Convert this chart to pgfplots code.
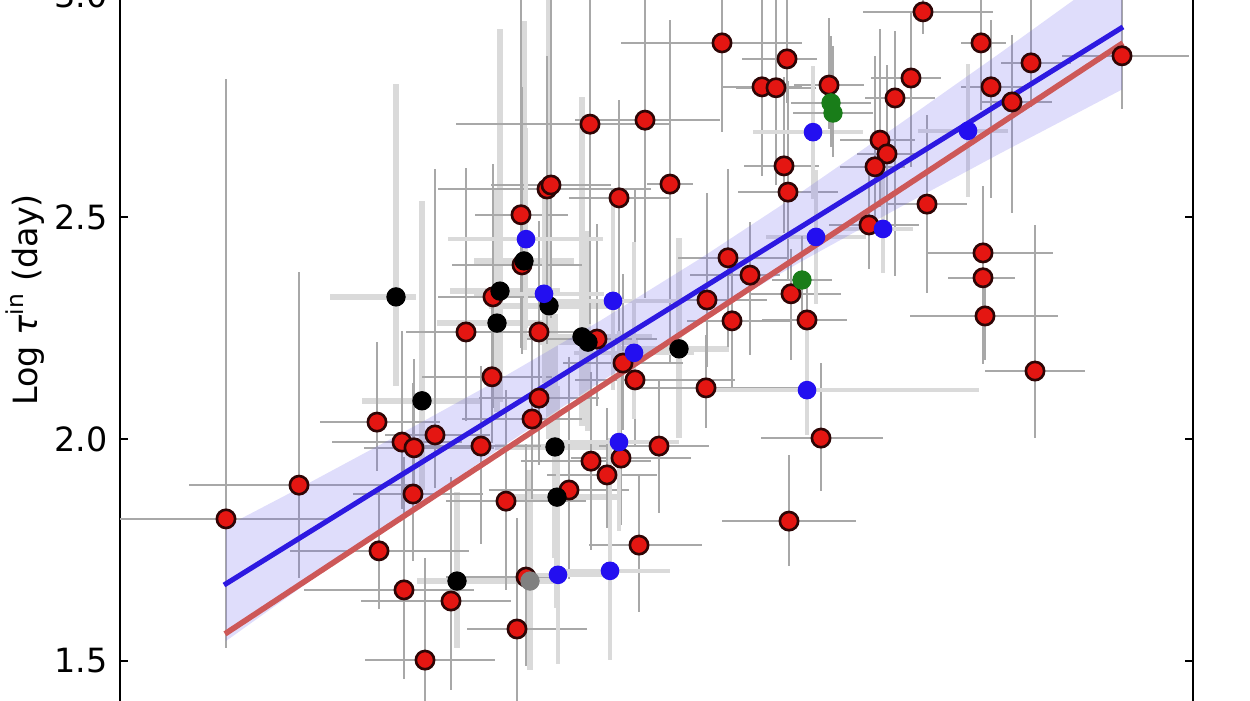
\documentclass[border=0pt]{standalone}
\usepackage{fontspec}
\setmainfont{DejaVu Sans}
\usepackage{pgfplots}
\usepackage{pgfplotstable}
\pgfplotsset{compat=1.18}

\definecolor{ptred}{RGB}{228,22,18}
\definecolor{ptedge}{RGB}{45,5,5}
\definecolor{ptblue}{RGB}{35,15,240}
\definecolor{ptgreen}{RGB}{25,125,25}
\definecolor{fitblue}{RGB}{45,25,225}
\definecolor{fitred}{RGB}{205,88,88}
\definecolor{bandc}{RGB}{110,100,235}
\definecolor{ebthin}{RGB}{168,168,168}
\definecolor{ebthick}{RGB}{218,218,218}

\pgfplotstableread{
x y xm xp ym yp
226 1.820 106 104 0.29 0.99
299 1.896 110 110 0.21 0.48
377 2.038 57 63 0.11 0.18
402 1.993 70 60 0.15 0.25
414 1.980 50 80 0.12 0.20
379 1.748 89 90 0.13 0.15
404 1.660 100 70 0.20 0.30
413 1.876 60 70 0.15 0.25
435 2.009 50 55 0.12 0.60
425 1.502 60 70 0.15 0.23
451 1.635 90 60 0.20 0.28
466 2.241 60 70 0.20 0.37
492 2.140 70 60 0.15 0.20
481 1.984 75 60 0.22 0.18
493 2.320 55 60 0.25 0.30
506 1.860 60 80 0.20 0.25
517 1.572 50 70 0.20 0.25
521 2.505 46 47 0.30 0.55
522 2.392 70 60 0.20 0.40
539 2.241 80 60 0.20 0.25
539 2.092 60 60 0.15 0.25
532 2.045 70 50 0.18 0.20
547 2.563 109 104 0.35 0.30
551 2.572 60 60 0.30 0.45
590 2.709 134 80 0.45 0.35
645 2.718 70 75 0.40 0.35
619 2.543 50 50 0.30 0.22
670 2.574 23 23 0.40 0.37
722 2.892 101 80 0.20 0.20
597 2.225 70 60 0.15 0.26
623 2.171 60 60 0.15 0.20
635 2.133 60 100 0.15 0.43
591 1.950 70 60 0.20 0.20
621 1.957 50 70 0.15 0.20
607 1.919 60 50 0.12 0.15
659 1.984 60 50 0.15 0.15
569 1.885 80 60 0.20 0.30
639 1.761 50 63 0.15 0.16
526 1.689 80 40 0.20 0.30
706 2.115 70 100 0.09 0.12
707 2.313 80 60 0.15 0.24
728 2.408 50 60 0.20 0.20
732 2.266 45 60 0.15 0.15
750 2.369 60 30 0.18 0.12
762 2.793 40 40 0.20 0.20
776 2.791 40 40 0.22 0.20
787 2.856 45 30 0.10 0.20
829 2.797 35 35 0.10 0.15
923 2.962 60 70 0.05 0.10
981 2.892 20 25 0.15 0.10
991 2.793 30 40 0.25 0.15
911 2.813 40 30 0.20 0.15
895 2.768 30 40 0.40 0.15
880 2.673 40 35 0.15 0.25
887 2.642 30 30 0.15 0.20
875 2.613 35 30 0.15 0.25
784 2.615 40 35 0.15 0.20
788 2.556 50 50 0.20 0.25
927 2.529 40 40 0.20 0.20
869 2.482 40 50 0.10 0.15
791 2.327 40 50 0.15 0.10
807 2.268 45 40 0.12 0.10
983 2.419 55 70 0.25 0.15
983 2.363 35 32 0.05 0.10
985 2.277 75 73 0.10 0.10
1031 2.847 30 40 0.10 0.15
1012 2.759 30 40 0.25 0.15
1122 2.863 60 67 0.12 0.13
1035 2.153 50 50 0.15 0.33
821 2.002 60 62 0.12 0.17
789 1.815 67 67 0.10 0.15
}\redtab

\pgfplotstableread{
x y xm xp ym yp
396 2.320 66 20 0.20 0.48
500 2.333 50 60 0.25 0.59
549 2.300 60 60 0.30 0.69
497 2.261 60 60 0.20 0.30
582 2.230 60 70 0.20 0.54
588 2.218 50 50 0.20 0.25
679 2.203 60 50 0.20 0.25
422 2.086 60 60 0.20 0.45
555 1.982 60 70 0.25 0.30
557 1.869 50 60 0.25 0.25
457 1.680 40 63 0.15 0.20
524 2.401 50 50 0.20 0.54
}\blacktab

\pgfplotstableread{
x y xm xp ym yp
526 2.450 78 77 0.20 0.25
544 2.327 70 60 0.20 0.25
613 2.311 60 70 0.20 0.25
634 2.194 60 60 0.15 0.25
619 1.993 60 60 0.20 0.25
558 1.694 40 60 0.20 0.25
610 1.703 60 60 0.20 0.30
813 2.691 60 50 0.15 0.15
816 2.455 50 50 0.15 0.15
883 2.473 40 30 0.10 0.15
968 2.694 50 40 0.15 0.15
807 2.110 107 172 0.10 0.15
}\bluetab

\pgfplotstableread{
x y xm xp ym yp
831 2.757 40 40 0.10 0.15
833 2.734 40 40 0.10 0.15
802 2.358 30 30 0.10 0.10
}\greentab

\pgfplotstableread{
x y xm xp ym yp
530 1.680 30 30 0.20 0.25
}\graytab

\pgfplotsset{
  ebars/.style 2 args={forget plot, draw=none, mark=none,
    error bars/.cd, x dir=both, x explicit, y dir=both, y explicit,
    error mark=none, error bar style={draw=#1, line width=#2}},
}

\begin{document}
\begin{tikzpicture}
\path[use as bounding box] (0,0) rectangle (12.5,7);
\clip (0,0) rectangle (12.5,7);
\begin{axis}[
  at={(1.20cm,-0.4975cm)}, anchor=south west,
  scale only axis, width=10.73cm, height=7.992cm,
  xmin=120, xmax=1193, ymin=1.3, ymax=3.1,
  xtick=\empty,
  ytick={1.5,2.0,2.5,3.0},
  ytick pos=both, tick align=inside,
  major tick length=0.8mm,
  every tick/.style={black, line width=0.6pt},
  axis line style={black, line width=0.7pt},
  yticklabel style={font=\fontsize{9.5}{11}\selectfont},
  /pgf/number format/assume math mode=true,
  /pgf/number format/.cd, fixed, fixed zerofill, precision=1,
  /pgfplots/.cd,
  ylabel={Log \textit{τ}\textsuperscript{in} (day)},
  ylabel style={at={(axis description cs:-0.0885,0.563)}, anchor=center,
    font=\fontsize{9.5}{11}\selectfont},
  clip=true,
]
% error bars
\addplot[ebars={ebthick}{1.8pt}]
  table[x=x,y=y,x error plus=xp,x error minus=xm,y error plus=yp,y error minus=ym]{\blacktab};
\addplot[ebars={ebthick}{1.8pt}]
  table[x=x,y=y,x error plus=xp,x error minus=xm,y error plus=yp,y error minus=ym]{\graytab};
\addplot[ebars={ebthin}{0.45pt}]
  table[x=x,y=y,x error plus=xp,x error minus=xm,y error plus=yp,y error minus=ym]{\redtab};
\addplot[ebars={ebthick}{1.2pt}]
  table[x=x,y=y,x error plus=xp,x error minus=xm,y error plus=yp,y error minus=ym]{\bluetab};
\addplot[ebars={ebthin}{0.45pt}]
  table[x=x,y=y,x error plus=xp,x error minus=xm,y error plus=yp,y error minus=ym]{\greentab};

% confidence band
\addplot[draw=none, fill=bandc, fill opacity=0.22, forget plot] coordinates {
(226,1.803) (300,1.890) (400,2.011) (500,2.135) (600,2.266) (700,2.406)
(800,2.554) (900,2.710) (1000,2.869) (1122,3.067)
(1122,2.787) (1000,2.643) (900,2.522) (800,2.398) (700,2.268) (600,2.128)
(500,1.979) (400,1.823) (300,1.664) (226,1.545)
};

% points
\addplot[only marks, mark=*, mark size=2.6pt,
  mark options={fill=ptred, draw=ptedge, line width=0.75pt}]
  table[x=x,y=y]{\redtab};
\addplot[only marks, mark=*, mark size=2.6pt,
  mark options={fill=black, draw=black, line width=0.3pt}]
  table[x=x,y=y]{\blacktab};
\addplot[only marks, mark=*, mark size=2.5pt,
  mark options={fill=ptblue, draw=ptblue, line width=0.3pt}]
  table[x=x,y=y]{\bluetab};
\addplot[only marks, mark=*, mark size=2.6pt,
  mark options={fill=ptgreen, draw=ptgreen, line width=0.3pt}]
  table[x=x,y=y]{\greentab};
\addplot[only marks, mark=*, mark size=2.6pt,
  mark options={fill=gray, draw=gray, line width=0.3pt}]
  table[x=x,y=y]{\graytab};

% fits
\addplot[fitred, line width=1.6pt] coordinates {(225,1.561) (1123,2.892)};
\addplot[fitblue, line width=1.45pt] coordinates {(224,1.671) (1123,2.928)};
\end{axis}
\end{tikzpicture}
\end{document}
